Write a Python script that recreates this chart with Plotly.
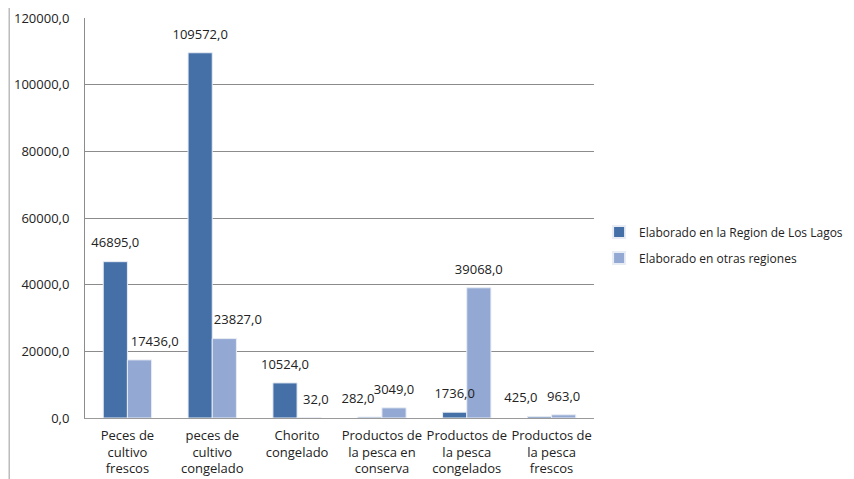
import plotly.graph_objects as go

categories = ["Peces de<br>cultivo<br>frescos", "peces de<br>cultivo<br>congelado", "Chorito<br>congelado",
              "Productos de<br>la pesca en<br>conserva", "Productos de<br>la pesca<br>congelados",
              "Productos de<br>la pesca<br>frescos"]
los_lagos = [46895.0, 109572.0, 10524.0, 282.0, 1736.0, 425.0]
otras = [17436.0, 23827.0, 32.0, 3049.0, 39068.0, 963.0]
y_ticks = [0, 20000, 40000, 60000, 80000, 100000, 120000]

font_family = "Open Sans, Liberation Sans, sans-serif"
names = ["Elaborado en la Region de Los Lagos", "Elaborado en otras regiones"]
colors = ["#4470A7", "#93A9D3"]
series = [los_lagos, otras]

# label nudges (non-breaking-space padding, like the original's collision avoidance)
NB = "\u00a0"
pad_right = [0, 0, 0, 7, 0, 11]   # padding after dark labels -> shift left
pad_left = [9, 8, 4, 0, 0, 0]     # padding before light labels -> shift right
templates = [
    ["%{y:.1f}" + NB * p for p in pad_right],
    [NB * p + "%{y:.1f}" for p in pad_left],
]

fig = go.Figure()
for i, (nm, col, vals) in enumerate(zip(names, colors, series)):
    fig.add_trace(go.Bar(
        x=categories, y=vals, name=nm, legendgroup=str(i),
        marker=dict(color=col, line=dict(color="#E8ECF4", width=1)),
    ))
for i, vals in enumerate(series):
    fig.add_trace(go.Scatter(
        x=categories, y=vals, mode="markers+text", showlegend=False, hoverinfo="skip",
        marker=dict(size=16, color="rgba(0,0,0,0)"),
        texttemplate=templates[i], textposition="top center",
        textfont=dict(size=13, color="#222222", family=font_family),
        cliponaxis=False,
    ))

fig.update_layout(
    width=846, height=471,
    margin=dict(l=77, r=260, t=10, b=61, autoexpand=False),
    paper_bgcolor="white", plot_bgcolor="white",
    separators=",.",
    barmode="group", bargap=0.43, bargroupgap=0.0,
    scattermode="group", scattergap=0.43,
    font=dict(family=font_family, size=13, color="#222222"),
    legend=dict(x=1.01, y=0.4325, xanchor="left", yanchor="middle",
                font=dict(size=12, color="#222222"), tracegroupgap=7,
                itemsizing="constant"),
    showlegend=True,
    xaxis=dict(showgrid=False, showline=True, linecolor="#9A9A9A", linewidth=1,
               ticks="", tickangle=0, tickfont=dict(size=13), ticklabelstandoff=5,
               automargin=False),
    yaxis=dict(range=[0, 120000], tickvals=y_ticks, tickformat=".1f",
               showgrid=True, gridcolor="#8C8C8C", gridwidth=1,
               showline=True, linecolor="#8C8C8C", linewidth=1,
               ticks="", ticklabelstandoff=12, tickfont=dict(size=13),
               zeroline=False, automargin=False),
    shapes=[dict(type="line", xref="paper", yref="paper",
                 x0=-0.149, x1=-0.149, y0=-0.2, y1=1.05,
                 line=dict(color="#9A9A9A", width=1))],
)

fig.write_html("out.html")
